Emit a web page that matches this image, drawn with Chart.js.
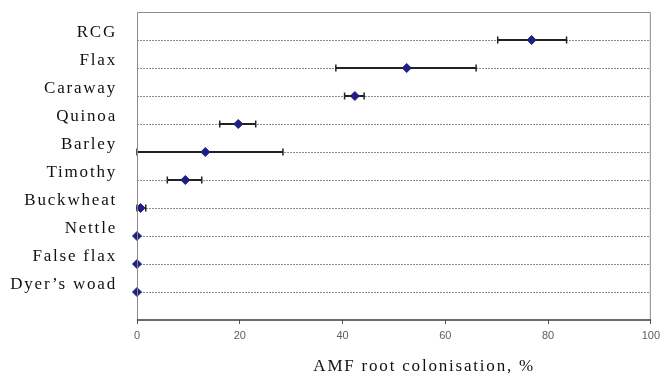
<!DOCTYPE html>
<html>
<head>
<meta charset="utf-8">
<script src="https://cdn.jsdelivr.net/npm/chart.js@4"></script>
<style>
  html, body { margin: 0; padding: 0; background: #fff; }
  #wrap { width: 665px; height: 382px; }
</style>
</head>
<body>
<div id="wrap"><canvas id="amfChart" width="665" height="382"></canvas></div>
<script>
// crops, top to bottom
const categories = ['RCG', 'Flax', 'Caraway', 'Quinoa', 'Barley', 'Timothy', 'Buckwheat', 'Nettle', 'False flax', 'Dyer’s woad'];
// mean colonisation (%) and error bar ends
const means   = [76.8, 52.5, 42.4, 19.7, 13.3, 9.4, 0.7, 0, 0, 0];
const errLow  = [70.2, 38.7, 40.4, 16.1, 0.0, 5.9, 0.0, 0, 0, 0];
const errHigh = [83.6, 66.0, 44.2, 23.1, 28.4, 12.6, 1.7, 0, 0, 0];
const xTicks  = [0, 20, 40, 60, 80, 100];

const points = means.map((m, i) => ({ x: m, y: i + 1 }));

// error bars drawn under the diamonds
const errorBars = {
    id: 'errorBars',
    beforeDatasetsDraw(chart) {
        const ctx = chart.ctx;
        const xs = chart.scales.x;
        const ys = chart.scales.y;
        ctx.save();
        ctx.strokeStyle = '#222';
        errLow.forEach((lo, i) => {
            const hi = errHigh[i];
            if (hi - lo <= 0) return;
            const y = ys.getPixelForValue(i + 1);
            const x1 = xs.getPixelForValue(lo);
            const x2 = xs.getPixelForValue(hi);
            ctx.lineWidth = 2;
            ctx.beginPath();
            ctx.moveTo(x1, y);
            ctx.lineTo(x2, y);
            ctx.stroke();
            ctx.lineWidth = 1.5;
            ctx.beginPath();
            ctx.moveTo(x1, y - 3.5); ctx.lineTo(x1, y + 3.5);
            ctx.moveTo(x2, y - 3.5); ctx.lineTo(x2, y + 3.5);
            ctx.stroke();
        });
        ctx.restore();
    },
    // x tick labels are drawn after the datasets, without the wide spacing
    afterDatasetsDraw(chart) {
        chart.ctx.letterSpacing = '0px';
    }
};

// spaced serif labels and the plot frame
const frame = {
    id: 'frame',
    beforeDraw(chart) {
        chart.ctx.letterSpacing = '1.8px';
    },
    afterDraw(chart) {
        const { ctx, chartArea: a } = chart;
        ctx.save();
        ctx.lineWidth = 1;
        ctx.strokeStyle = '#8a8a8a';
        ctx.beginPath();
        ctx.moveTo(a.left + 0.5, a.bottom);
        ctx.lineTo(a.left + 0.5, a.top + 0.5);
        ctx.lineTo(a.right - 0.5, a.top + 0.5);
        ctx.lineTo(a.right - 0.5, a.bottom);
        ctx.stroke();
        ctx.strokeStyle = '#3a3a3a';
        ctx.lineWidth = 1.5;
        ctx.beginPath();
        ctx.moveTo(a.left, a.bottom);
        ctx.lineTo(a.right, a.bottom);
        ctx.stroke();
        ctx.restore();
    }
};

new Chart(document.getElementById('amfChart'), {
    type: 'scatter',
    data: {
        datasets: [{
            data: points,
            clip: false,
            pointStyle: 'rectRot',
            pointRadius: 4.5,
            pointHoverRadius: 4.5,
            backgroundColor: '#1f1f80',
            borderColor: '#1f1f80',
            borderWidth: 1
        }]
    },
    options: {
        responsive: false,
        animation: false,
        events: [],
        layout: { autoPadding: false, padding: { top: 12, right: 11, bottom: 0, left: 0 } },
        plugins: { legend: { display: false }, tooltip: { enabled: false } },
        scales: {
            x: {
                type: 'linear',
                min: 0,
                max: 100,
                afterBuildTicks(scale) { scale.ticks = xTicks.map(v => ({ value: v })); },
                afterFit(scale) { scale.height = 62; },
                grid: { drawOnChartArea: false, drawTicks: true, tickLength: 4, color: '#555' },
                border: { display: false },
                ticks: {
                    z: 1,
                    color: '#606060',
                    font: { family: 'Liberation Sans', size: 11 },
                    padding: 5,
                    maxRotation: 0
                },
                title: {
                    display: true,
                    text: '          AMF root colonisation, %',
                    color: '#111',
                    font: { family: 'Liberation Serif', size: 17 },
                    padding: { top: 0, bottom: 5 }
                }
            },
            y: {
                type: 'linear',
                reverse: true,
                min: 0,
                max: 11,
                afterBuildTicks(scale) {
                    scale.ticks = [];
                    for (let i = 0; i <= categories.length + 1; i++) scale.ticks.push({ value: i });
                },
                afterFit(scale) {
                    scale.width = 137;
                    scale.paddingTop = 0;
                    scale.paddingBottom = 0;
                },
                grid: {
                    drawTicks: false,
                    lineWidth: 1,
                    color: ctx => (ctx.tick && ctx.tick.value >= 1 && ctx.tick.value <= categories.length) ? '#8c8c8c' : 'rgba(0,0,0,0)'
                },
                border: { display: false, dash: [2, 1] },
                ticks: {
                    color: '#111',
                    font: { family: 'Liberation Serif', size: 17 },
                    padding: 20,
                    labelOffset: -7,
                    callback: v => categories[v - 1] || ''
                }
            }
        }
    },
    plugins: [errorBars, frame]
});
</script>
</body>
</html>
